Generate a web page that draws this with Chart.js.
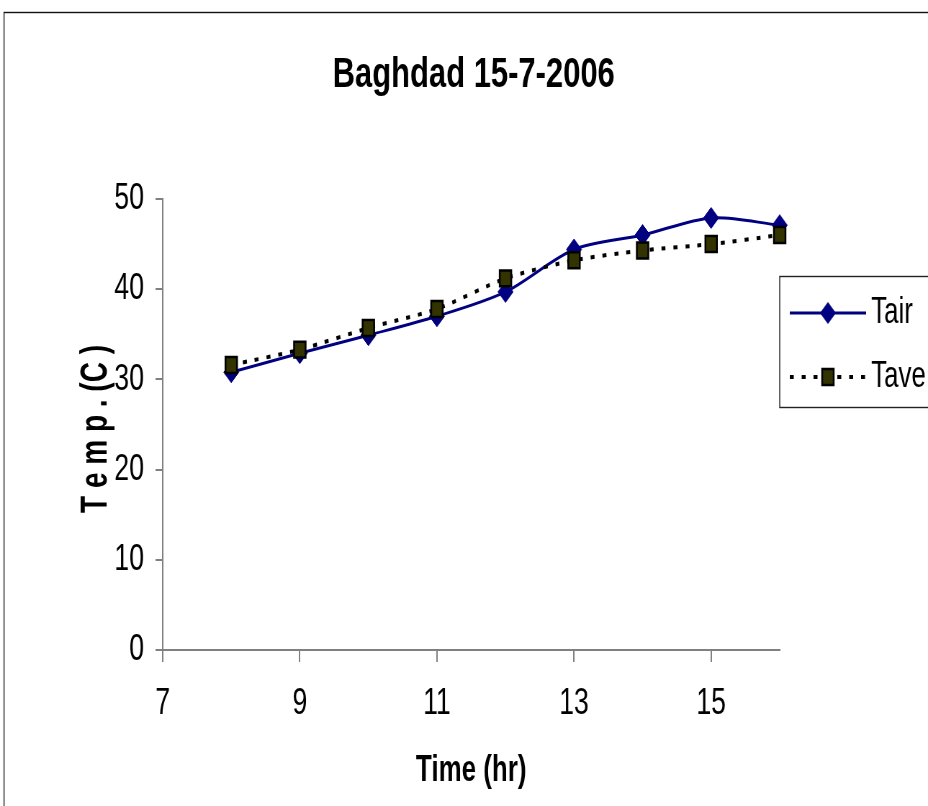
<!DOCTYPE html>
<html>
<head>
<meta charset="utf-8">
<script src="https://cdn.jsdelivr.net/npm/chart.js@4/dist/chart.umd.min.js"></script>
<style>
html,body{margin:0;padding:0;background:#fff;overflow:hidden}
#c{display:block}
</style>
</head>
<body>
<canvas id="c" width="1289" height="806" style="width:928px;height:806px"></canvas>
<script>
// ---- data ----
const chartTitle = 'Baghdad 15-7-2006';
const xAxisTitle = 'Time (hr)';
const yAxisTitle = 'T e m p . (C )';
const seriesNames = ['Tair', 'Tave'];
const hours = [8, 9, 10, 11, 12, 13, 14, 15, 16];
const tair = [30.8, 32.9, 34.9, 37.0, 39.7, 44.4, 46.0, 47.9, 47.1];
const tave = [31.6, 33.3, 35.7, 37.8, 41.2, 43.2, 44.3, 45.0, 46.0];
const xTicks = [7, 9, 11, 13, 15];
const yTicks = [0, 10, 20, 30, 40, 50];

// ---- drawing ----
const FONT = "'Liberation Sans', Arial, sans-serif";
const canvas = document.getElementById('c');

const decor = {
  id: 'decor',
  beforeDraw(chart) {
    const ctx = chart.ctx;
    ctx.save();
    ctx.fillStyle = '#fff';
    ctx.fillRect(0, 0, chart.width, chart.height);
    ctx.strokeStyle = '#111';
    ctx.lineWidth = 1.4;
    ctx.strokeRect(5.6, 12.5, 1500, 1000);
    ctx.restore();
  },
  afterDraw(chart) {
    const ctx = chart.ctx;
    ctx.save();
    // title
    ctx.fillStyle = '#000';
    ctx.font = `bold 43px ${FONT}`;
    ctx.textAlign = 'center';
    ctx.textBaseline = 'alphabetic';
    ctx.fillText(chartTitle, 658, 87);

    // y axis title
    ctx.save();
    ctx.translate(148, 429);
    ctx.rotate(-Math.PI / 2);
    ctx.scale(1, 1.85);
    ctx.font = `bold 28px ${FONT}`;
    ctx.textAlign = 'center';
    ctx.textBaseline = 'alphabetic';
    ctx.fillText(yAxisTitle, 0, 0);
    ctx.restore();

    // legend box
    ctx.strokeStyle = '#222';
    ctx.lineWidth = 1.4;
    ctx.strokeRect(1083, 276.5, 400, 131);
    const rows = [313, 377];
    chart.data.datasets.forEach((ds, i) => {
      const y = rows[i];
      ctx.save();
      ctx.strokeStyle = ds.borderColor;
      ctx.lineWidth = ds.borderWidth;
      ctx.setLineDash(ds.borderDash || []);
      ctx.beginPath();
      ctx.moveTo(1097, y);
      ctx.lineTo(1203, y);
      ctx.stroke();
      ctx.setLineDash([]);
      const cx = 1150;
      ctx.fillStyle = ds.pointBackgroundColor;
      ctx.strokeStyle = ds.pointBorderColor;
      ctx.lineWidth = ds.pointBorderWidth;
      ctx.beginPath();
      if (ds.pointStyle === 'rectRot') {
        const r = ds.pointRadius;
        ctx.moveTo(cx - r, y); ctx.lineTo(cx, y - r); ctx.lineTo(cx + r, y); ctx.lineTo(cx, y + r);
        ctx.closePath();
      } else {
        const s = Math.SQRT1_2 * ds.pointRadius;
        ctx.rect(cx - s, y - s, 2 * s, 2 * s);
      }
      ctx.fill();
      ctx.stroke();
      ctx.restore();
      ctx.fillStyle = '#000';
      ctx.font = `36px ${FONT}`;
      ctx.textAlign = 'left';
      ctx.textBaseline = 'middle';
      ctx.fillText(ds.label, 1210, y);
    });
    ctx.restore();
  }
};

const axisColor = '#808080';

new Chart(canvas, {
  type: 'line',
  data: {
    datasets: [
      {
        label: seriesNames[0],
        data: hours.map((h, i) => ({ x: h, y: tair[i] })),
        borderColor: '#000080',
        backgroundColor: '#000080',
        borderWidth: 3,
        tension: 0.3,
        pointStyle: 'rectRot',
        pointRadius: 10.5,
        pointBackgroundColor: '#000080',
        pointBorderColor: '#000080',
        pointBorderWidth: 1,
        clip: false,
        order: 1
      },
      {
        label: seriesNames[1],
        data: hours.map((h, i) => ({ x: h, y: tave[i] })),
        borderColor: '#000000',
        backgroundColor: '#333300',
        borderWidth: 4,
        borderDash: [5.5, 11],
        tension: 0.25,
        pointStyle: 'rect',
        pointRadius: 11.3,
        pointBackgroundColor: '#333300',
        pointBorderColor: '#000000',
        pointBorderWidth: 2.5,
        clip: false,
        order: 0
      }
    ]
  },
  options: {
    responsive: false,
    animation: false,
    devicePixelRatio: 1,
    events: [],
    layout: { padding: { left: 0, top: 199, right: 206, bottom: 0 } },
    plugins: {
      legend: { display: false },
      title: { display: false },
      tooltip: { enabled: false }
    },
    scales: {
      x: {
        type: 'linear',
        min: 7,
        max: 16,
        afterBuildTicks: a => { a.ticks = xTicks.map(v => ({ value: v })); },
        afterFit: s => { s.height = 156; },
        border: { display: true, color: axisColor, width: 2 },
        grid: { display: true, drawOnChartArea: false, drawTicks: true, tickLength: 12, color: axisColor, lineWidth: 2 },
        ticks: { font: { family: FONT, size: 37 }, color: '#000', padding: 20, maxRotation: 0, autoSkip: false },
        title: { display: true, text: xAxisTitle, font: { family: FONT, size: 36, weight: 'bold' }, color: '#000', padding: { top: 0, bottom: 13 } }
      },
      y: {
        type: 'linear',
        min: 0,
        max: 50,
        afterBuildTicks: a => { a.ticks = yTicks.map(v => ({ value: v })); },
        afterFit: s => { s.width = 226; },
        border: { display: true, color: axisColor, width: 2 },
        grid: { display: true, drawOnChartArea: false, drawTicks: true, tickLength: 10, color: axisColor, lineWidth: 2 },
        ticks: { font: { family: FONT, size: 37 }, color: '#000', padding: 16, autoSkip: false }
      }
    }
  },
  plugins: [decor]
});
</script>
</body>
</html>
